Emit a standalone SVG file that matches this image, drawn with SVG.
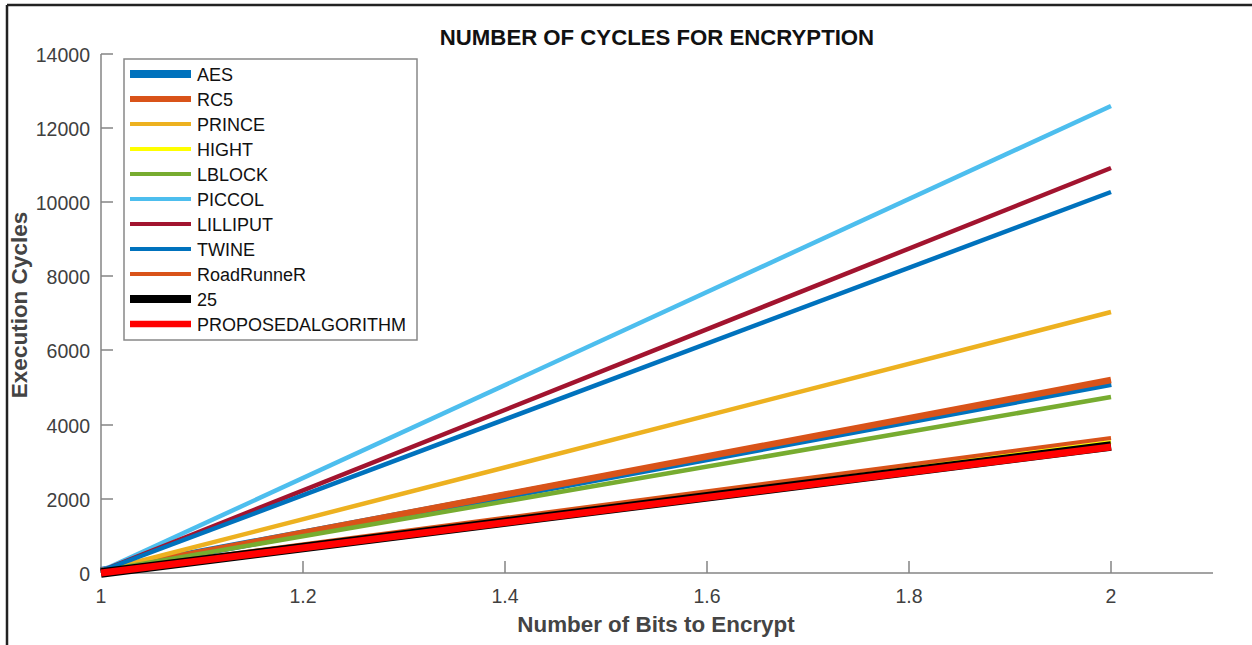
<svg xmlns="http://www.w3.org/2000/svg" width="1252" height="645" viewBox="0 0 1252 645">
<style>
text{font-family:"Liberation Sans",Arial,sans-serif}
.tk{font-size:19.5px;fill:#404040}
.ax{stroke:#858585;stroke-width:1.5;fill:none}
.lg{font-size:18px;fill:#111}
.s{fill:none;stroke-linecap:butt}
</style>
<rect x="0" y="0" width="1252" height="645" fill="#fff"/>
<g id="frame">
<line x1="7" y1="5" x2="1252" y2="5" stroke="#222" stroke-width="2.5"/>
<line x1="7" y1="5" x2="7" y2="645" stroke="#222" stroke-width="2.5"/>
</g>
<g id="title"><text x="657" y="45" text-anchor="middle" font-size="22.2" font-weight="bold" fill="#111">NUMBER OF CYCLES FOR ENCRYPTION</text></g>
<g id="axes">
<line class="ax" x1="101" y1="54" x2="101" y2="573"/>
<line class="ax" x1="101" y1="573" x2="1213" y2="573"/>
<path class="ax" d="M101 54h12M101 128h12M101 202h12M101 276h12M101 350h12M101 425h12M101 499h12M303 573v-12M505 573v-12M707 573v-12M909 573v-12M1111 573v-12"/>
<g class="tk" text-anchor="end">
<text x="90" y="62">14000</text>
<text x="90" y="136">12000</text>
<text x="90" y="210">10000</text>
<text x="90" y="284">8000</text>
<text x="90" y="358">6000</text>
<text x="90" y="433">4000</text>
<text x="90" y="507">2000</text>
<text x="90" y="581">0</text>
</g>
<g class="tk" text-anchor="middle">
<text x="101" y="603">1</text>
<text x="303" y="603">1.2</text>
<text x="505" y="603">1.4</text>
<text x="707" y="603">1.6</text>
<text x="909" y="603">1.8</text>
<text x="1111" y="603">2</text>
</g>
<text x="656" y="632" text-anchor="middle" font-size="22.4" font-weight="bold" fill="#444">Number of Bits to Encrypt</text>
<text transform="translate(26.5,305) rotate(-90)" text-anchor="middle" font-size="22.5" font-weight="bold" fill="#444">Execution Cycles</text>
</g>
<g id="series">
<line class="s" x1="101" y1="571" x2="1111" y2="383" stroke="#0072BD" stroke-width="8"/>
<line class="s" x1="101" y1="571" x2="1111" y2="380" stroke="#D95319" stroke-width="6.5"/>
<line class="s" x1="101" y1="571" x2="1111" y2="312" stroke="#EDB120" stroke-width="4.5"/>
<line class="s" x1="101" y1="571" x2="1111" y2="442" stroke="#FFFF00" stroke-width="4"/>
<line class="s" x1="101" y1="571" x2="1111" y2="397" stroke="#77AC30" stroke-width="4.5"/>
<line class="s" x1="101" y1="571" x2="1111" y2="106" stroke="#4DBEEE" stroke-width="4.5"/>
<line class="s" x1="101" y1="571" x2="1111" y2="168" stroke="#A2142F" stroke-width="4.5"/>
<line class="s" x1="101" y1="571" x2="1111" y2="192" stroke="#0072BD" stroke-width="4.5"/>
<line class="s" x1="101" y1="571" x2="1111" y2="438" stroke="#D95319" stroke-width="4"/>
<line class="s" x1="101" y1="573" x2="1111" y2="446" stroke="#000" stroke-width="9.5"/>
<line class="s" x1="101" y1="573" x2="1111" y2="447" stroke="#FF0000" stroke-width="7"/>
</g>
<g id="legend">
<rect x="124" y="59" width="293" height="281" fill="#fff" stroke="#888" stroke-width="1.5"/>
<line class="s" x1="130" y1="74" x2="191" y2="74" stroke="#0072BD" stroke-width="8"/>
<line class="s" x1="130" y1="99" x2="191" y2="99" stroke="#D95319" stroke-width="6"/>
<line class="s" x1="130" y1="124" x2="191" y2="124" stroke="#EDB120" stroke-width="4"/>
<line class="s" x1="130" y1="149" x2="191" y2="149" stroke="#FFFF00" stroke-width="4"/>
<line class="s" x1="130" y1="174" x2="191" y2="174" stroke="#77AC30" stroke-width="4"/>
<line class="s" x1="130" y1="199" x2="191" y2="199" stroke="#4DBEEE" stroke-width="4"/>
<line class="s" x1="130" y1="224" x2="191" y2="224" stroke="#A2142F" stroke-width="4"/>
<line class="s" x1="130" y1="249" x2="191" y2="249" stroke="#0072BD" stroke-width="4"/>
<line class="s" x1="130" y1="274" x2="191" y2="274" stroke="#D95319" stroke-width="4"/>
<line class="s" x1="130" y1="299" x2="191" y2="299" stroke="#000" stroke-width="8"/>
<line class="s" x1="130" y1="324" x2="191" y2="324" stroke="#FF0000" stroke-width="6.5"/>
<g class="lg">
<text x="197" y="81">AES</text>
<text x="197" y="106">RC5</text>
<text x="197" y="131">PRINCE</text>
<text x="197" y="156">HIGHT</text>
<text x="197" y="181">LBLOCK</text>
<text x="197" y="206">PICCOL</text>
<text x="197" y="231">LILLIPUT</text>
<text x="197" y="256">TWINE</text>
<text x="197" y="281">RoadRunneR</text>
<text x="197" y="306">25</text>
<text x="197" y="331">PROPOSEDALGORITHM</text>
</g>
</g>
</svg>
